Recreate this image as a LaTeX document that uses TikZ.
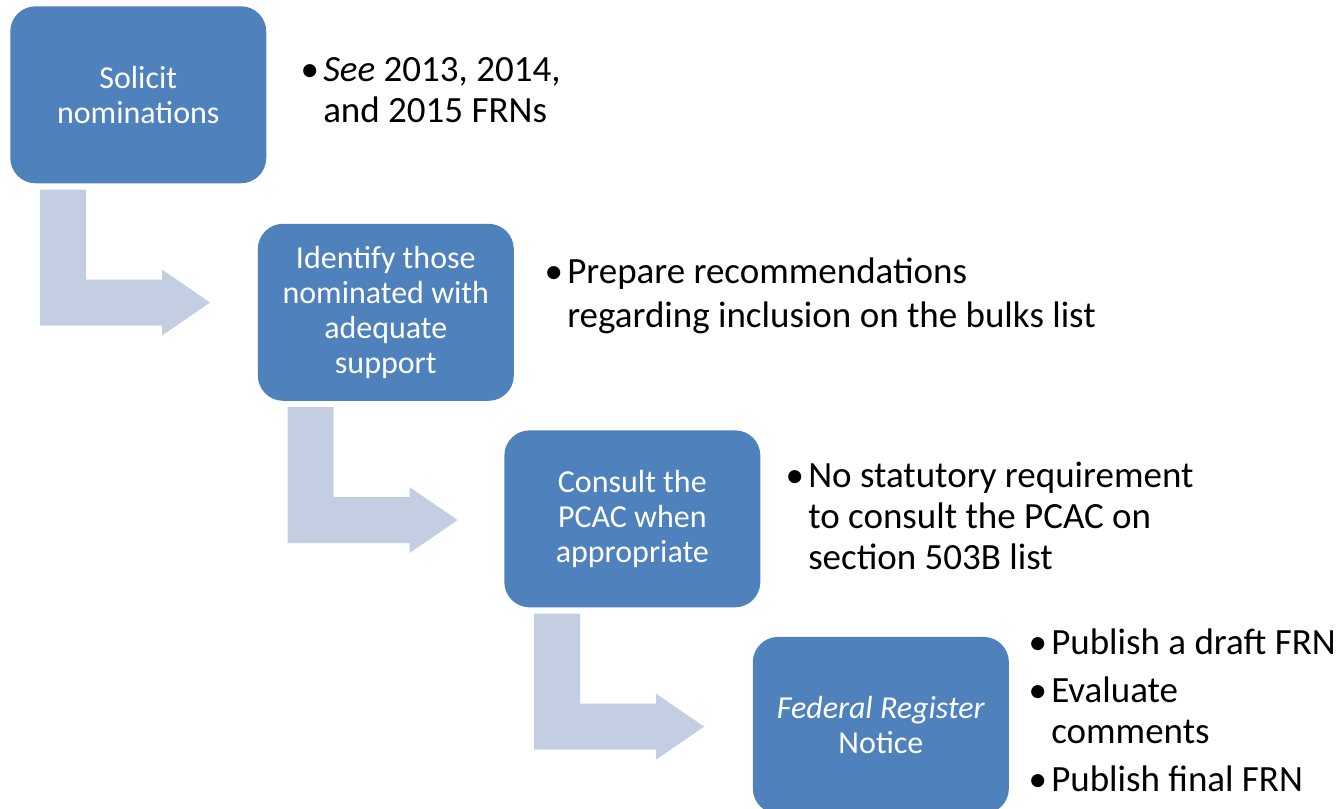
\documentclass[tikz,border=0pt]{standalone}
\usepackage{fontspec}
\setmainfont{Carlito}
\usepackage{xcolor}
\usepackage{tikz}
\usetikzlibrary{positioning}
\definecolor{stageblue}{RGB}{79,129,189}
\definecolor{bendgrey}{RGB}{196,206,227}
\tikzstyle{stage} = [rectangle, fill=stageblue, text=white, align=center,
    minimum width=192pt, minimum height=132.75pt, rounded corners=19pt,
    inner sep=0pt, font=\fontsize{24}{26.25}\selectfont]
\tikzstyle{notes} = [anchor=base west, align=left, inner sep=0pt,
    font=\fontsize{27.75}{30.75}\selectfont]
\tikzstyle{bentarrow} = [fill=bendgrey]
\newcommand{\bul}{\llap{\makebox[17pt][l]{\textbullet}}}

\begin{document}
\begin{tikzpicture}[x=0.75pt, y=-0.75pt]
    \useasboundingbox (0,0) rectangle (1343,808);
    % Place nodes
    \node [stage, anchor=north west] at (10,6) (sol) {Solicit\\ nominations};
    \node [stage, below right=30pt and -6.75pt of sol] (ide) {Identify those\\ nominated with\\ adequate\\ support};
    \node [stage, below right=21.75pt and -7.5pt of ide] (con) {Consult the\\ PCAC when\\ appropriate};
    \node [stage, below right=21.75pt and -6pt of con] (frn) {\textit{Federal Register}\\ Notice};
    % Notes beside the stages (placed by the baseline of their last line)
    \node [notes] at (323,122) (see) {\bul\textit{See} 2013, 2014,\\ and 2015 FRNs};
    \node [notes] at (567,327) (prep) {\bul Prepare recommendations\\[2pt] regarding inclusion on the bulks list};
    \node [notes] at (808,569) (stat) {\bul No statutory requirement\\ to consult the PCAC on\\ section 503B list};
    \node [notes] at (1051,791) (pub) {\bul Publish a draft FRN\\[5pt] \bul Evaluate\\ comments\\[5pt] \bul Publish final FRN};
    % Bent arrows
    \foreach \s in {sol,ide,con}
        \fill [bentarrow, shift={(\s.south west)}] (30,6) -- (76,6) -- (76,96) -- (152,96) -- (152,86)
            -- (200,119) -- (152,152) -- (152,142) -- (30,142) -- cycle;
\end{tikzpicture}
\end{document}
